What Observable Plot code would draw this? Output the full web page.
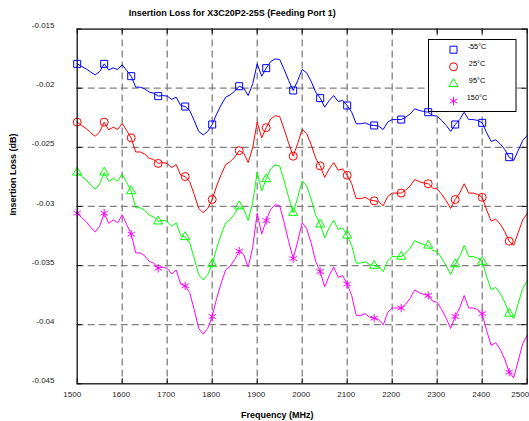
<!DOCTYPE html>
<html><head><meta charset="utf-8">
<script src="https://cdn.jsdelivr.net/npm/d3@7"></script>
<script src="https://cdn.jsdelivr.net/npm/@observablehq/plot@0.6"></script>
<style>body{margin:0;background:#fff;}</style>
</head><body><div id="chart"></div>
<script>
const titleText = "Insertion Loss for X3C20P2-25S (Feeding Port 1)";
const xLabel = "Frequency (MHz)";
const yLabel = "Insertion Loss (dB)";
const freq = d3.range(1500, 2501, 10);
const seriesNames = ["-55°C", "25°C", "95°C", "150°C"];
const seriesColors = ["#0000ff", "#ff0000", "#00ff00", "#ff00ff"];
const seriesSymbols = ["square", "circle", "triangle", "asterisk"];
const symbolRadius = [3.95, 4, 3.4, 4];
const xTicks = [1500,1600,1700,1800,1900,2000,2100,2200,2300,2400,2500];
const yTicks = [-0.045,-0.04,-0.035,-0.03,-0.025,-0.02,-0.015];
const yTickLabels = ["-0.045","-0.04","-0.035","-0.03","-0.025","-0.02","-0.015"];

const lossM55 = [-0.01794,-0.01816,-0.01836,-0.01864,-0.01887,-0.01859,-0.01794,-0.01845,-0.01828,-0.01842,
-0.01802,-0.01850,-0.01898,-0.01991,-0.01991,-0.02005,-0.02033,-0.02042,-0.02067,-0.02062,
-0.02067,-0.02095,-0.02076,-0.02146,-0.02155,-0.02188,-0.02273,-0.02366,-0.02394,-0.02366,
-0.02307,-0.02217,-0.02141,-0.02076,-0.02056,-0.02025,-0.01983,-0.02000,-0.02062,-0.01963,
-0.01794,-0.01898,-0.01830,-0.01774,-0.01752,-0.01757,-0.01842,-0.01935,-0.02019,-0.01935,
-0.01842,-0.01870,-0.01943,-0.02033,-0.02084,-0.02160,-0.02104,-0.02062,-0.02112,-0.02104,
-0.02146,-0.02203,-0.02301,-0.02301,-0.02293,-0.02310,-0.02315,-0.02321,-0.02349,-0.02287,
-0.02265,-0.02265,-0.02265,-0.02245,-0.02217,-0.02174,-0.02188,-0.02197,-0.02203,-0.02231,
-0.02236,-0.02273,-0.02315,-0.02366,-0.02307,-0.02265,-0.02203,-0.02265,-0.02265,-0.02273,
-0.02293,-0.02377,-0.02451,-0.02437,-0.02470,-0.02518,-0.02583,-0.02611,-0.02527,-0.02442,-0.02400];

const loss25 = [-0.02287,-0.02316,-0.02341,-0.02377,-0.02406,-0.02370,-0.02287,-0.02352,-0.02330,-0.02348,
-0.02298,-0.02359,-0.02420,-0.02539,-0.02539,-0.02557,-0.02593,-0.02603,-0.02636,-0.02629,
-0.02636,-0.02672,-0.02646,-0.02736,-0.02747,-0.02790,-0.02898,-0.03017,-0.03053,-0.03017,
-0.02941,-0.02826,-0.02729,-0.02646,-0.02621,-0.02582,-0.02528,-0.02549,-0.02629,-0.02503,
-0.02287,-0.02420,-0.02334,-0.02262,-0.02233,-0.02240,-0.02348,-0.02467,-0.02575,-0.02467,
-0.02348,-0.02384,-0.02478,-0.02593,-0.02657,-0.02754,-0.02682,-0.02629,-0.02693,-0.02682,
-0.02736,-0.02808,-0.02934,-0.02934,-0.02923,-0.02945,-0.02952,-0.02959,-0.02995,-0.02916,
-0.02887,-0.02887,-0.02887,-0.02862,-0.02826,-0.02772,-0.02790,-0.02801,-0.02808,-0.02844,
-0.02851,-0.02898,-0.02952,-0.03017,-0.02941,-0.02887,-0.02808,-0.02887,-0.02887,-0.02898,
-0.02923,-0.03031,-0.03125,-0.03107,-0.03150,-0.03211,-0.03294,-0.03329,-0.03222,-0.03114,-0.03060];

const loss95 = [-0.02712,-0.02746,-0.02776,-0.02819,-0.02853,-0.02810,-0.02712,-0.02789,-0.02763,-0.02785,
-0.02725,-0.02797,-0.02870,-0.03011,-0.03011,-0.03032,-0.03075,-0.03087,-0.03126,-0.03117,
-0.03126,-0.03168,-0.03138,-0.03245,-0.03258,-0.03309,-0.03437,-0.03577,-0.03620,-0.03577,
-0.03488,-0.03352,-0.03236,-0.03138,-0.03109,-0.03062,-0.02998,-0.03023,-0.03117,-0.02968,
-0.02712,-0.02870,-0.02768,-0.02682,-0.02648,-0.02657,-0.02785,-0.02925,-0.03053,-0.02925,
-0.02785,-0.02827,-0.02938,-0.03075,-0.03151,-0.03266,-0.03181,-0.03117,-0.03194,-0.03181,
-0.03245,-0.03330,-0.03479,-0.03479,-0.03467,-0.03492,-0.03501,-0.03509,-0.03552,-0.03458,
-0.03424,-0.03424,-0.03424,-0.03394,-0.03352,-0.03288,-0.03309,-0.03322,-0.03330,-0.03373,
-0.03381,-0.03437,-0.03501,-0.03577,-0.03488,-0.03424,-0.03330,-0.03424,-0.03424,-0.03437,
-0.03467,-0.03595,-0.03705,-0.03684,-0.03735,-0.03808,-0.03906,-0.03948,-0.03820,-0.03693,-0.03629];

const loss150 = [-0.03057,-0.03095,-0.03129,-0.03177,-0.03215,-0.03167,-0.03057,-0.03143,-0.03114,-0.03138,
-0.03071,-0.03153,-0.03234,-0.03393,-0.03393,-0.03417,-0.03465,-0.03479,-0.03523,-0.03513,
-0.03523,-0.03571,-0.03537,-0.03657,-0.03671,-0.03729,-0.03873,-0.04032,-0.04080,-0.04032,
-0.03931,-0.03777,-0.03647,-0.03537,-0.03503,-0.03450,-0.03378,-0.03407,-0.03513,-0.03345,
-0.03057,-0.03234,-0.03119,-0.03023,-0.02985,-0.02994,-0.03138,-0.03297,-0.03441,-0.03297,
-0.03138,-0.03186,-0.03311,-0.03465,-0.03551,-0.03681,-0.03585,-0.03513,-0.03599,-0.03585,
-0.03657,-0.03753,-0.03921,-0.03921,-0.03907,-0.03936,-0.03945,-0.03955,-0.04003,-0.03897,
-0.03859,-0.03859,-0.03859,-0.03825,-0.03777,-0.03705,-0.03729,-0.03744,-0.03753,-0.03801,
-0.03811,-0.03873,-0.03945,-0.04032,-0.03931,-0.03859,-0.03753,-0.03859,-0.03859,-0.03873,
-0.03907,-0.04051,-0.04176,-0.04152,-0.04209,-0.04291,-0.04402,-0.04450,-0.04306,-0.04161,-0.04089];

const seriesValues = [lossM55, loss25, loss95, loss150];
const data = [];
seriesNames.forEach((s, j) => seriesValues[j].forEach((v, i) => data.push({f: freq[i], v, s, i, r: symbolRadius[j]})));

const W = 529, H = 421;
const mL = 76.7, mR = 2.3, mT = 28.6, mB = 37.7;
const frameW = W - mL - mR, frameH = H - mT - mB;
const font = "'Liberation Sans', Arial, Helvetica, sans-serif";
const gridStyle = {stroke: "#808080", strokeOpacity: 1, strokeWidth: 1.3, strokeDasharray: "7,4"};

const symbolTypes = {square: d3.symbolSquare, circle: d3.symbolCircle, triangle: d3.symbolTriangle, asterisk: d3.symbolAsterisk};

function legend(index, scales, values, dims) {
  const left = dims.width - dims.marginRight - 98.2, top = dims.marginTop + 10.9;
  const g = d3.create("svg:g");
  g.append("rect").attr("x", left).attr("y", top).attr("width", 87.5).attr("height", 72)
    .attr("fill", "white").attr("stroke", "black").attr("stroke-width", 1);
  seriesNames.forEach((n, j) => {
    const cy = top + 10.2 + j * 17.1;
    g.append("path")
      .attr("transform", `translate(${left + 25},${cy})`)
      .attr("d", d3.symbol(symbolTypes[seriesSymbols[j]], Math.PI * symbolRadius[j] ** 2)())
      .attr("fill", "none").attr("stroke", seriesColors[j]).attr("stroke-width", 1);
    g.append("text").attr("x", left + 48.5).attr("y", cy - 3.5).attr("dy", "0.32em")
      .attr("font-size", 7.3).attr("font-family", font).attr("fill", "black").text(n);
  });
  return g.node();
}

const xTickText = {frameAnchor: "bottom", lineAnchor: "middle", dy: 10.2, fontSize: 8, fill: "#222"};

const plot = Plot.plot({
  width: W, height: H,
  marginLeft: mL, marginRight: mR, marginTop: mT, marginBottom: mB,
  style: {fontFamily: font, background: "white"},
  x: {domain: [1500, 2500], axis: null},
  y: {domain: [-0.045, -0.015], axis: null},
  color: {domain: seriesNames, range: seriesColors},
  symbol: {domain: seriesNames, range: seriesSymbols},
  r: {type: "identity"},
  marks: [
    Plot.gridX(xTicks.slice(1, -1), gridStyle),
    Plot.gridY(yTicks.slice(1, -1), gridStyle),
    Plot.ruleX(xTicks, {insetTop: frameH - 5, stroke: "black", strokeWidth: 1}),
    Plot.ruleX(xTicks, {insetBottom: frameH - 5, stroke: "black", strokeWidth: 1}),
    Plot.ruleY(yTicks, {insetRight: frameW - 5, stroke: "black", strokeWidth: 1}),
    Plot.ruleY(yTicks, {insetLeft: frameW - 5, stroke: "black", strokeWidth: 1}),
    legend,
    Plot.line(data, {x: "f", y: "v", z: "s", stroke: "s", strokeWidth: 1}),
    Plot.dot(data, {filter: d => d.i % 6 === 0, x: "f", y: "v", stroke: "s", symbol: "s", r: "r", fill: "none", strokeWidth: 1}),
    Plot.frame({stroke: "#111", strokeWidth: 1.3}),
    Plot.text(xTicks.slice(0, 1), {...xTickText, x: d => d, text: d => String(d), dx: -5}),
    Plot.text(xTicks.slice(1, -1), {...xTickText, x: d => d, text: d => String(d), dx: -1}),
    Plot.text(xTicks.slice(-1), {...xTickText, x: d => d, text: d => String(d), dx: -7}),
    Plot.text(yTicks, {y: d => d, text: (d, i) => yTickLabels[i], frameAnchor: "left", textAnchor: "end",
      lineAnchor: "middle", dx: -22.7, dy: -3.5, fontSize: 8, fill: "#222"}),
    Plot.text([titleText], {frameAnchor: "top", lineAnchor: "middle", dx: -70, dy: -16, fontSize: 9, fontWeight: "bold"}),
    Plot.text([xLabel], {frameAnchor: "bottom", lineAnchor: "middle", dx: -25, dy: 31, fontSize: 9, fontWeight: "bold"}),
    Plot.text([yLabel], {frameAnchor: "left", lineAnchor: "middle", rotate: -90, dx: -64.5, dy: 9, fontSize: 9, fontWeight: "bold"})
  ]
});
document.getElementById("chart").appendChild(plot);
</script>
</body></html>
